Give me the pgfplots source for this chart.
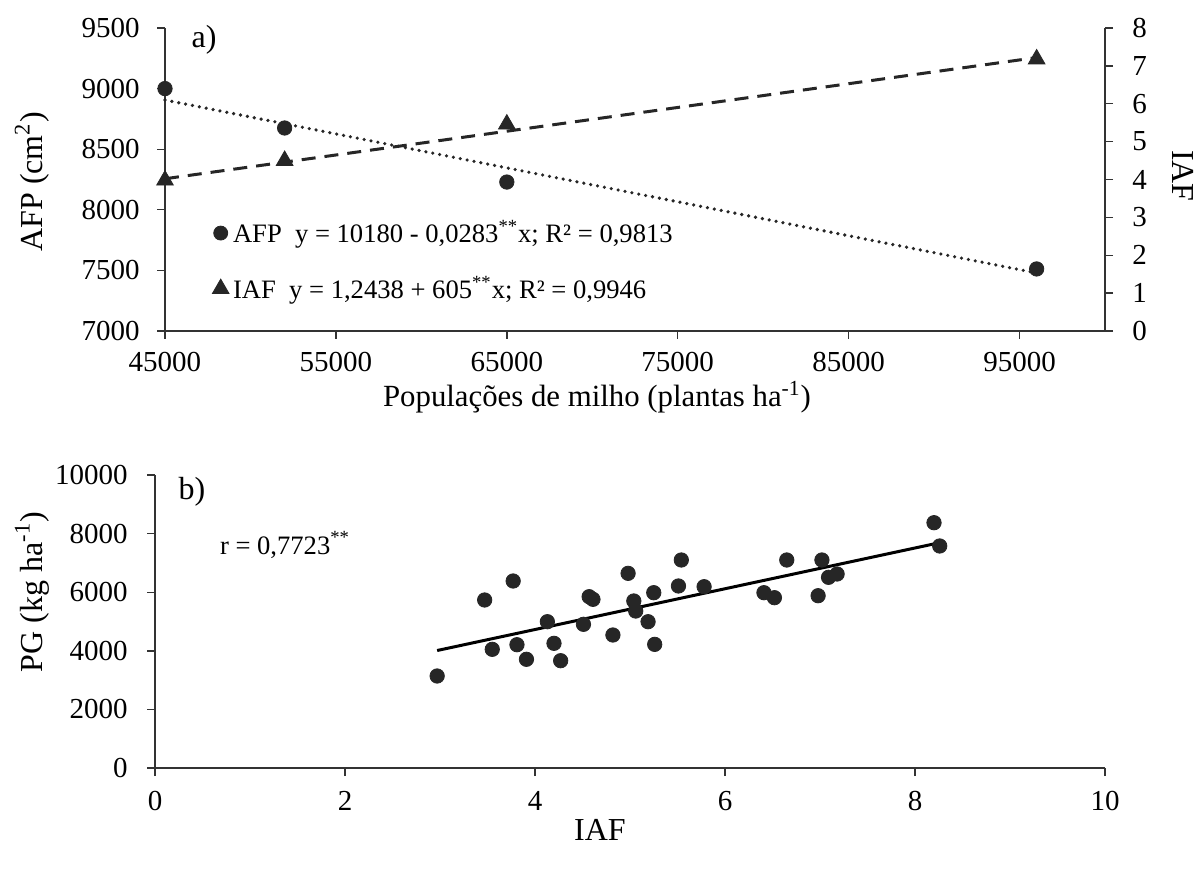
\documentclass[border=0pt]{standalone}
\usepackage{fontspec}
\setmainfont{Liberation Serif}
\usepackage{pgfplots}
\pgfplotsset{compat=1.18}
\definecolor{mk}{HTML}{262626}
\newcommand{\tickfont}{\fontsize{14.5}{17}\selectfont}
\newcommand{\titlefont}{\fontsize{16}{19}\selectfont}
\newcommand{\xtitlefont}{\fontsize{15.4}{18}\selectfont}
\newcommand{\legfont}{\fontsize{13.3}{16}\selectfont}
\begin{document}
\begin{tikzpicture}[x=1pt,y=1pt]
\useasboundingbox (0,0) rectangle (602,-435.5);
\pgfplotsset{
  every axis/.append style={
    scale only axis,
    anchor=south west,
    tick align=outside,
    major tick length=4pt,
    axis line style={-, line width=0.7pt, color=black!80},
    every tick/.style={line width=0.7pt, color=black!80},
    tick label style={font=\tickfont, inner sep=0pt},
    /pgf/number format/assume math mode=true,
    /pgf/number format/1000 sep={},
    scaled x ticks=false, scaled y ticks=false,
    clip=false,
  }
}
% ---------- panel a: AFP (left axis)
\begin{axis}[at={(82.5pt,-165.5pt)}, width=470pt, height=151.5pt,
  xmin=45000, xmax=100000, ymin=7000, ymax=9500,
  axis x line*=bottom, axis y line*=left,
  xticklabel shift=6.5pt, yticklabel shift=8.5pt,
  xtick={45000,55000,65000,75000,85000,95000},
  ytick={7000,7500,8000,8500,9000,9500}]
\addplot[only marks, mark=*, mark size=3.6pt, color=mk] coordinates {
 (45000,9000) (52000,8675) (65000,8229) (96000,7512)};
\addplot[color=mk, line width=1.8pt, line cap=round, dash pattern=on 0pt off 3.5pt] coordinates {
 (45000,8906) (96000,7478)};
\end{axis}
% ---------- panel a: IAF (right axis)
\begin{axis}[at={(82.5pt,-165.5pt)}, width=470pt, height=151.5pt,
  xmin=45000, xmax=100000, ymin=0, ymax=8,
  axis y line*=right, axis x line=none,
  yticklabel shift=9.5pt,
  ytick={0,1,2,3,4,5,6,7,8},
  legend style={at={(0.05,0.38)}, anchor=north west, draw=none, fill=none,
    font=\legfont, row sep=11pt, inner sep=0pt,
    nodes={inner sep=2pt}},
  legend cell align=left,
  legend image code/.code={\draw[#1] plot coordinates {(0pt,0pt)};}]
\addlegendimage{only marks, mark=*, mark size=3.5pt, color=mk}
\addlegendentry{AFP\enspace y = 10180 - 0,0283\textsuperscript{**}x; R² = 0,9813}
\addplot[only marks, mark=triangle*, mark size=4.8pt, color=mk] coordinates {
 (45000,3.98) (52000,4.5) (65000,5.46) (96000,7.18)};
\addlegendentry{IAF\enspace y = 1,2438 + 605\textsuperscript{**}x; R² = 0,9946}
\addplot[forget plot, color=mk, line width=1.5pt, dash pattern=on 7pt off 4.5pt] coordinates {
 (45000,4.02) (96000,7.22)};
\end{axis}
% ---------- panel b
\begin{axis}[at={(77.5pt,-384pt)}, width=475pt, height=146.5pt,
  xmin=0, xmax=10, ymin=0, ymax=10000,
  axis x line*=bottom, axis y line*=left,
  xticklabel shift=7.5pt, yticklabel shift=9.5pt,
  xtick={0,2,4,6,8,10},
  ytick={0,2000,4000,6000,8000,10000}]
\addplot[only marks, mark=*, mark size=3.6pt, color=mk] coordinates {
 (2.97,3140) (3.47,5734) (3.55,4050) (3.77,6382) (3.81,4208) (3.91,3710)
 (4.13,4993) (4.20,4255) (4.27,3662) (4.51,4904) (4.57,5847) (4.61,5757)
 (4.82,4539) (4.98,6644) (5.04,5700) (5.06,5358) (5.19,4993) (5.25,5983)
 (5.26,4220) (5.51,6212) (5.54,7099) (5.78,6188) (6.41,5983) (6.52,5813)
 (6.65,7099) (7.02,7099) (7.09,6508) (7.18,6621) (6.98,5880) (8.20,8372)
 (8.26,7577)};
\addplot[color=black, line width=1.5pt] coordinates {(2.97,4010) (8.26,7690)};
\end{axis}
% ---------- texts
\node[rotate=90, font=\titlefont] at (16,-91) {AFP (cm\textsuperscript{2})};
\node[rotate=-90, font=\titlefont] at (591.5,-88) {IAF};
\node[font=\xtitlefont] at (298.5,-198.5) {Populações de milho (plantas ha\textsuperscript{-1})};
\node[rotate=90, font=\titlefont] at (16,-296) {PG (kg ha\textsuperscript{-1})};
\node[font=\titlefont] at (300,-415) {IAF};
\node[font=\titlefont] at (102,-20) {a)};
\node[font=\titlefont] at (96,-246) {b)};
\node[font=\legfont] at (142.5,-272.5) {r = 0,7723\textsuperscript{**}};
\end{tikzpicture}
\end{document}
